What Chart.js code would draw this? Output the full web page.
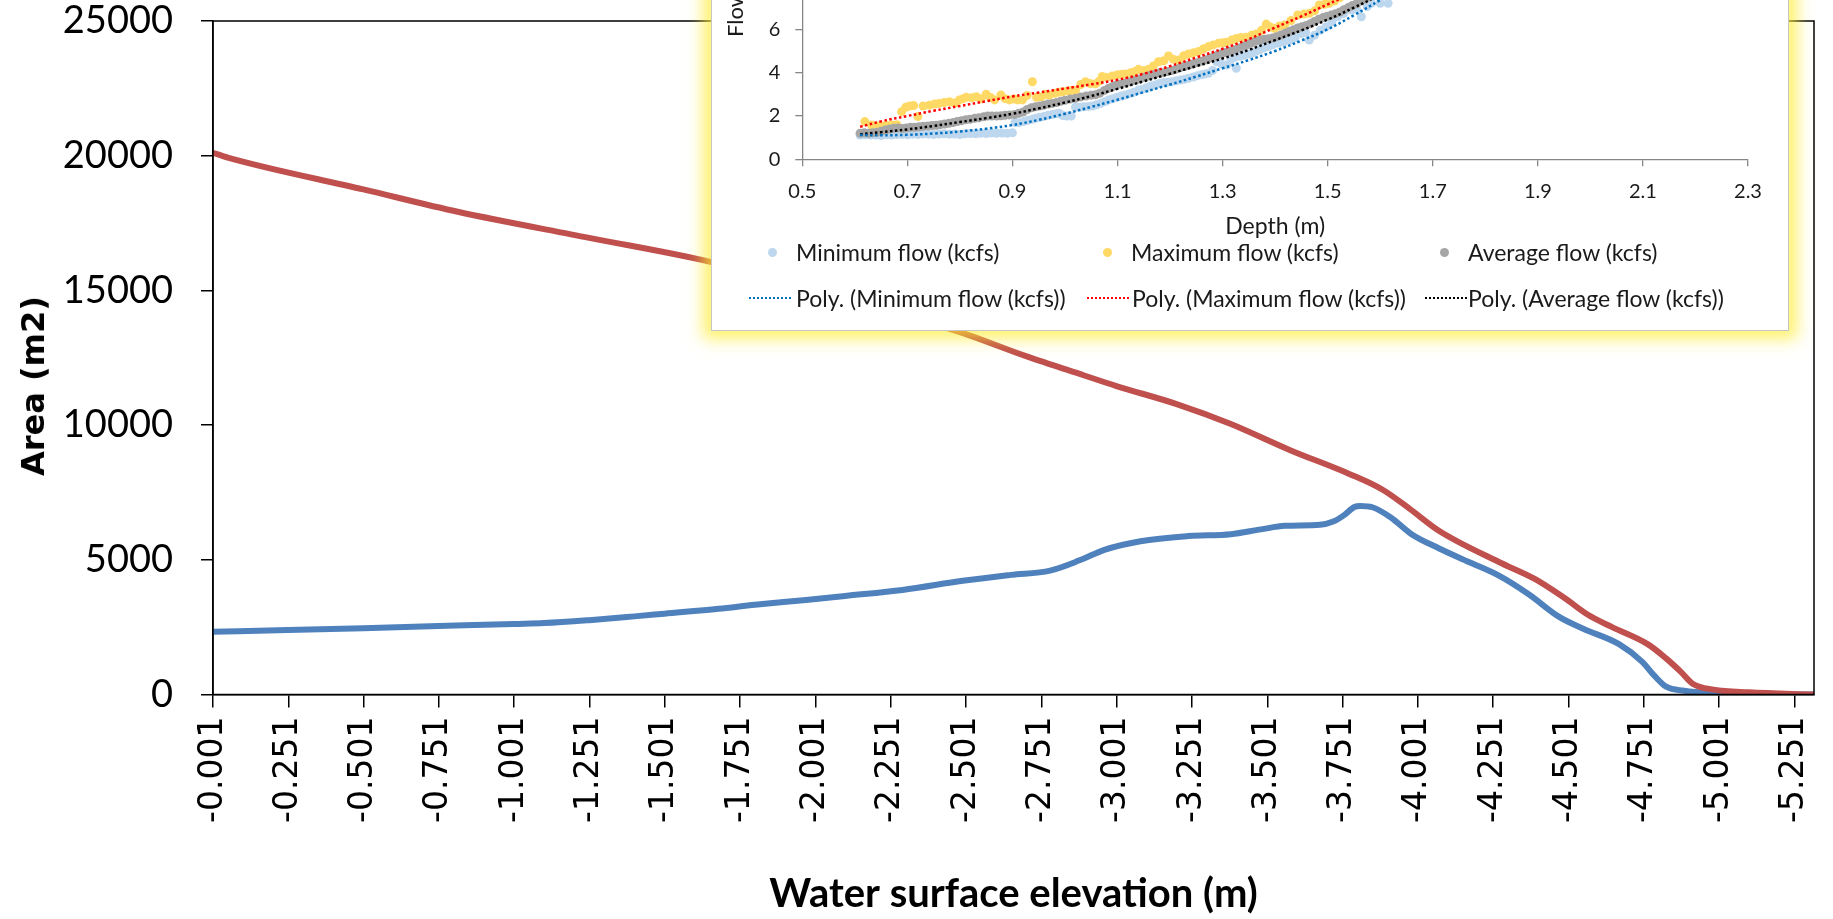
<!DOCTYPE html>
<html>
<head>
<meta charset="utf-8">
<script src="https://cdn.jsdelivr.net/npm/chart.js@4.4.1/dist/chart.umd.min.js"></script>
<style>
  html, body { margin: 0; padding: 0; background: #fff; overflow: hidden; }
  #wrap { position: relative; width: 1833px; height: 919px; }
  #mainChart { position: absolute; left: 0; top: 0; }
  #yTitle { position: absolute; left: 33px; top: 386px; transform: translate(-50%, -50%) rotate(-90deg);
            font: bold 32px "DejaVu Sans"; white-space: nowrap; color: #000; }
  #inset { position: absolute; left: 711px; top: -221px; width: 1076px; height: 550px; background: #fff;
           border: 1px solid #c6c6c6; box-shadow: 0 0 15px 8px rgba(255, 236, 50, 0.72); }
  #insetChart { position: absolute; left: 0; top: 0; }
  .lg { position: absolute; font: 23px Lato; color: #1a1a1a; white-space: nowrap; line-height: 24px; }
  .dot { position: absolute; width: 9px; height: 9px; border-radius: 50%; }
  .dash { position: absolute; width: 42px; height: 2px; }
</style>
</head>
<body>
<div id="wrap">
  <canvas id="mainChart" width="1833" height="919"></canvas>
  <div id="yTitle">Area (m2)</div>
  <div id="inset">
    <canvas id="insetChart" width="1076" height="550"></canvas>
    <div id="insetLegend"></div>
  </div>
</div>
<script>
// ---- main chart: area vs water surface elevation ----
const xTicks = [-0.001, -0.251, -0.501, -0.751, -1.001, -1.251, -1.501, -1.751, -2.001, -2.251, -2.501,
                -2.751, -3.001, -3.251, -3.501, -3.751, -4.001, -4.251, -4.501, -4.751, -5.001, -5.251];

const blueElev = [-0.001, -0.25, -0.5, -0.75, -1.0, -1.1, -1.25, -1.4, -1.5, -1.68, -1.8, -1.97, -2.1, -2.29,
                  -2.49, -2.65, -2.78, -2.88, -2.96, -3.08, -3.24, -3.38, -3.48, -3.56, -3.676, -3.72, -3.755,
                  -3.79, -3.81, -3.85, -3.91, -3.98, -4.07, -4.17, -4.27, -4.37, -4.47, -4.55, -4.67, -4.745,
                  -4.785, -4.825, -4.885, -4.98, -5.16, -5.316];
const blueArea = [2330, 2390, 2460, 2540, 2620, 2650, 2760, 2900, 3000, 3180, 3330, 3510, 3660, 3880,
                  4220, 4440, 4600, 4990, 5370, 5690, 5880, 5950, 6130, 6260, 6300, 6420, 6650,
                  6960, 7000, 6950, 6580, 5950, 5430, 4920, 4410, 3710, 2880, 2440, 1860, 1220,
                  710, 290, 140, 50, 0, 0];

const redElev = [-0.001, -0.05, -0.5, -0.817, -1.25, -1.655, -2.0, -2.476, -2.7, -2.891, -3.0, -3.2, -3.378,
                 -3.577, -3.775, -3.884, -3.973, -4.072, -4.27, -4.389, -4.488, -4.567, -4.646, -4.765,
                 -4.824, -4.874, -4.913, -4.983, -5.1, -5.316];
const redArea = [20110, 19930, 18750, 17910, 16950, 16050, 15000, 13470, 12560, 11850, 11450, 10780, 10050,
                 9070, 8180, 7600, 6900, 6070, 4920, 4290, 3580, 2950, 2500, 1860,
                 1350, 840, 400, 180, 80, 0];

// ---- inset chart: flow vs depth ----
const insetXTicks = [0.5, 0.7, 0.9, 1.1, 1.3, 1.5, 1.7, 1.9, 2.1, 2.3];

const minDepth = [0.610, 0.620, 0.630, 0.640, 0.650, 0.660, 0.670, 0.680, 0.690, 0.700, 0.710, 0.720, 0.730,
                  0.740, 0.750, 0.760, 0.770, 0.780, 0.790, 0.800, 0.810, 0.820, 0.830, 0.840, 0.850, 0.860,
                  0.870, 0.880, 0.890, 0.900, 0.905, 0.913, 0.922, 0.930, 0.938, 0.944, 0.952, 0.960, 0.968,
                  0.976, 0.984, 0.989, 0.996, 1.004, 1.012, 1.020, 1.028, 1.036, 1.044, 1.052, 1.060, 1.068,
                  1.076, 1.083, 1.091, 1.099, 1.107, 1.115, 1.123, 1.131, 1.140, 1.146, 1.155, 1.163, 1.172,
                  1.180, 1.188, 1.196, 1.203, 1.212, 1.220, 1.228, 1.235, 1.244, 1.252, 1.260, 1.267, 1.273,
                  1.281, 1.289, 1.298, 1.308, 1.316, 1.323, 1.326, 1.333, 1.341, 1.349, 1.355, 1.363, 1.371,
                  1.379, 1.387, 1.395, 1.406, 1.417, 1.428, 1.438, 1.450, 1.458, 1.465, 1.475, 1.486, 1.497,
                  1.508, 1.519, 1.530, 1.545, 1.555, 1.564, 1.575, 1.583, 1.600, 1.615];
const minFlow = [1.12, 1.13, 1.12, 1.12, 1.10, 1.13, 1.12, 1.14, 1.15, 1.13, 1.16, 1.15, 1.17,
                 1.16, 1.15, 1.17, 1.18, 1.16, 1.17, 1.14, 1.18, 1.19, 1.18, 1.20, 1.19, 1.21,
                 1.20, 1.21, 1.20, 1.22, 1.70, 1.69, 1.75, 1.80, 1.85, 1.89, 1.94, 1.98, 2.03,
                 2.07, 2.10, 2.12, 2.02, 2.00, 2.00, 2.40, 2.40, 2.42, 2.44, 2.46, 2.52, 2.58,
                 2.66, 2.74, 2.80, 2.86, 2.92, 2.97, 3.03, 3.10, 3.20, 3.22, 3.30, 3.38, 3.43,
                 3.50, 3.54, 3.56, 3.58, 3.62, 3.66, 3.70, 3.74, 3.80, 3.86, 3.90, 3.94, 3.97,
                 4.10, 4.50, 4.40, 4.35, 4.62, 4.71, 4.20, 4.75, 4.80, 4.86, 4.89, 4.98, 5.06,
                 5.14, 5.20, 5.28, 5.35, 5.42, 5.50, 5.62, 5.81, 5.85, 5.50, 5.73, 5.95, 6.12,
                 6.35, 6.58, 6.72, 6.89, 6.95, 6.58, 7.05, 7.20, 7.20, 7.20];

const maxDepth = [0.619, 0.632, 0.642, 0.651, 0.660, 0.670, 0.680, 0.689, 0.697, 0.704, 0.712, 0.720, 0.730,
                  0.742, 0.752, 0.760, 0.770, 0.780, 0.790, 0.799, 0.806, 0.812, 0.822, 0.831, 0.840, 0.850,
                  0.858, 0.866, 0.878, 0.886, 0.894, 0.903, 0.910, 0.919, 0.928, 0.938, 0.946, 0.955, 0.963,
                  0.970, 0.980, 0.988, 0.995, 1.005, 1.012, 1.020, 1.030, 1.039, 1.048, 1.058, 1.065, 1.071,
                  1.080, 1.090, 1.100, 1.108, 1.115, 1.125, 1.133, 1.140, 1.150, 1.159, 1.168, 1.178, 1.188,
                  1.197, 1.206, 1.216, 1.226, 1.235, 1.245, 1.254, 1.264, 1.273, 1.282, 1.292, 1.300, 1.307,
                  1.317, 1.326, 1.335, 1.345, 1.355, 1.364, 1.374, 1.383, 1.391, 1.399, 1.408, 1.418, 1.430,
                  1.443, 1.455, 1.465, 1.475, 1.484, 1.494, 1.503, 1.513, 1.523, 1.535, 1.548, 1.560];
const maxFlow = [1.74, 1.58, 1.55, 1.54, 1.57, 1.58, 1.60, 2.20, 2.40, 2.46, 2.48, 1.97, 2.46,
                 2.50, 2.55, 2.58, 2.62, 2.66, 2.60, 2.74, 2.80, 2.86, 2.84, 2.89, 2.80, 3.00,
                 2.85, 2.74, 2.97, 2.80, 2.74, 2.78, 2.74, 2.74, 2.95, 3.58, 2.86, 2.88, 3.00,
                 2.97, 3.05, 3.10, 3.12, 3.15, 3.18, 3.17, 3.45, 3.58, 3.50, 3.48, 3.60, 3.82,
                 3.78, 3.85, 3.90, 3.92, 3.94, 4.00, 4.05, 4.15, 4.10, 4.15, 4.30, 4.50, 4.55,
                 4.77, 4.62, 4.58, 4.78, 4.86, 4.92, 4.97, 5.10, 5.20, 5.28, 5.35, 5.38, 5.40,
                 5.50, 5.58, 5.62, 5.63, 5.72, 5.78, 5.95, 6.24, 6.10, 6.04, 6.15, 6.20, 6.40,
                 6.66, 6.70, 6.74, 6.85, 7.12, 7.15, 7.20, 7.30, 7.45, 7.60, 7.80, 8.00];

const avgDepth = [0.610, 0.618, 0.626, 0.634, 0.642, 0.650, 0.658, 0.666, 0.674, 0.682, 0.690, 0.698, 0.706,
                  0.714, 0.722, 0.730, 0.739, 0.747, 0.755, 0.763, 0.771, 0.779, 0.787, 0.795, 0.803, 0.811,
                  0.819, 0.828, 0.836, 0.845, 0.853, 0.861, 0.870, 0.878, 0.886, 0.894, 0.904, 0.912, 0.920,
                  0.928, 0.936, 0.944, 0.952, 0.960, 0.968, 0.976, 0.984, 0.992, 1.000, 1.010, 1.020, 1.030,
                  1.040, 1.050, 1.058, 1.066, 1.075, 1.083, 1.091, 1.099, 1.107, 1.115, 1.123, 1.131, 1.139,
                  1.147, 1.155, 1.163, 1.171, 1.179, 1.187, 1.195, 1.203, 1.211, 1.219, 1.227, 1.235, 1.243,
                  1.251, 1.259, 1.267, 1.275, 1.283, 1.291, 1.299, 1.307, 1.315, 1.323, 1.331, 1.339, 1.347,
                  1.355, 1.363, 1.371, 1.379, 1.387, 1.395, 1.403, 1.411, 1.419, 1.427, 1.435, 1.443, 1.451,
                  1.459, 1.467, 1.475, 1.483, 1.491, 1.499, 1.507, 1.515, 1.523, 1.531, 1.539, 1.547, 1.555,
                  1.563, 1.571, 1.579, 1.587];
const avgFlow = [1.20, 1.22, 1.20, 1.23, 1.25, 1.30, 1.35, 1.40, 1.43, 1.45, 1.42, 1.44, 1.48,
                 1.48, 1.50, 1.52, 1.54, 1.56, 1.57, 1.60, 1.63, 1.66, 1.70, 1.74, 1.78, 1.82,
                 1.85, 1.89, 1.92, 1.96, 2.00, 2.00, 2.00, 2.01, 2.03, 2.05, 2.07, 2.12, 2.18,
                 2.30, 2.38, 2.42, 2.46, 2.50, 2.55, 2.58, 2.62, 2.68, 2.72, 2.78, 2.82, 2.88,
                 2.92, 2.96, 2.98, 3.05, 3.18, 3.28, 3.36, 3.44, 3.48, 3.52, 3.58, 3.64, 3.70,
                 3.76, 3.82, 3.88, 3.93, 3.98, 4.00, 4.05, 4.10, 4.16, 4.22, 4.28, 4.34, 4.40,
                 4.46, 4.52, 4.58, 4.66, 4.74, 4.82, 4.88, 4.94, 5.00, 5.06, 5.14, 5.22, 5.30,
                 5.38, 5.45, 5.50, 5.54, 5.56, 5.60, 5.66, 5.74, 5.82, 5.90, 5.98, 6.06, 6.12,
                 6.18, 6.26, 6.36, 6.46, 6.54, 6.60, 6.66, 6.72, 6.80, 6.90, 7.00, 7.10, 7.18,
                 7.30, 7.40, 7.50, 7.62];

// trendlines
const polyDepth = [0.61, 0.65, 0.70, 0.75, 0.80, 0.85, 0.90, 0.95, 1.00, 1.05, 1.10, 1.15, 1.20, 1.25,
                   1.30, 1.35, 1.40, 1.45, 1.50, 1.55, 1.60, 1.65];
const polyMin = [1.12, 1.11, 1.13, 1.19, 1.28, 1.41, 1.58, 1.82, 2.10, 2.42, 2.75, 3.10, 3.45, 3.82,
                 4.20, 4.58, 5.00, 5.48, 6.00, 6.65, 7.35, 8.10];
const polyMax = [1.50, 1.75, 2.00, 2.24, 2.46, 2.68, 2.90, 3.08, 3.27, 3.46, 3.67, 3.95, 4.30, 4.70,
                 5.10, 5.55, 6.08, 6.60, 7.15, 7.70, 8.30, 8.90];
const polyAvg = [1.15, 1.25, 1.38, 1.54, 1.72, 1.90, 2.10, 2.35, 2.62, 2.92, 3.25, 3.60, 3.95, 4.30,
                 4.65, 5.05, 5.50, 5.95, 6.45, 7.00, 7.60, 8.25];

const pts = (xs, ys) => xs.map((x, i) => ({ x: x, y: ys[i] }));

Chart.defaults.font.family = 'Lato';
Chart.defaults.color = '#000';

// plot-area frame for the main chart
const frame = {
  id: 'frame',
  afterDraw(chart) {
    const { ctx, chartArea: a } = chart;
    ctx.save();
    ctx.strokeStyle = '#000';
    ctx.lineWidth = 1.5;
    ctx.strokeRect(a.left, a.top, a.right - a.left, a.bottom - a.top);
    ctx.restore();
  }
};

new Chart(document.getElementById('mainChart'), {
  type: 'line',
  data: {
    datasets: [
      { label: 'Series2', data: pts(redElev, redArea), borderColor: '#C0504D', borderWidth: 6,
        pointRadius: 0, cubicInterpolationMode: 'monotone', order: 0 },
      { label: 'Series1', data: pts(blueElev, blueArea), borderColor: '#4F81BD', borderWidth: 6,
        pointRadius: 0, cubicInterpolationMode: 'monotone', order: 1 }
    ]
  },
  options: {
    responsive: false,
    animation: false,
    layout: { autoPadding: false, padding: { top: 21, right: 19, left: 0, bottom: 0 } },
    plugins: { legend: { display: false }, tooltip: { enabled: false } },
    scales: {
      x: {
        type: 'linear', reverse: true, min: -5.316, max: -0.001,
        afterBuildTicks: s => { s.ticks = xTicks.map(v => ({ value: v })); },
        afterFit: s => { s.height = 919 - 694.5; s.paddingLeft = 0; s.paddingRight = 0; },
        ticks: { autoSkip: false, minRotation: 90, maxRotation: 90, padding: 9,
                 font: { family: 'DejaVu Sans', size: 33 }, color: '#000',
                 callback: v => Number(v).toFixed(3) },
        grid: { drawOnChartArea: false, tickLength: 13, color: '#000', lineWidth: 1.5 },
        border: { color: '#000', width: 1.5 },
        title: { display: true, text: 'Water surface elevation (m)', color: '#000',
                 font: { family: 'Lato', size: 40, weight: 'bold' }, padding: { top: 0, bottom: 1 } }
      },
      y: {
        min: 0, max: 25000,
        afterFit: s => { s.width = 213; s.paddingTop = 0; s.paddingBottom = 0; },
        ticks: { stepSize: 5000, padding: 28, color: '#000', font: { family: 'Lato', size: 38, lineHeight: 1 },
                 callback: v => String(v) },
        grid: { drawOnChartArea: false, tickLength: 12, color: '#000', lineWidth: 1.5 },
        border: { color: '#000', width: 1.5 }
      }
    }
  },
  plugins: [frame]
});

// ---- inset ----
const insetAxis = '#868686';
new Chart(document.getElementById('insetChart'), {
  type: 'scatter',
  data: {
    datasets: [
      { label: 'Poly. (Minimum flow (kcfs))', data: pts(polyDepth, polyMin), showLine: true, pointRadius: 0,
        borderColor: '#0070C0', borderWidth: 2.5, borderDash: [2.5, 2.5], tension: 0.4, order: 0 },
      { label: 'Poly. (Maximum flow (kcfs))', data: pts(polyDepth, polyMax), showLine: true, pointRadius: 0,
        borderColor: '#FF0000', borderWidth: 2.5, borderDash: [2.5, 2.5], tension: 0.4, order: 1 },
      { label: 'Poly. (Average flow (kcfs))', data: pts(polyDepth, polyAvg), showLine: true, pointRadius: 0,
        borderColor: '#000000', borderWidth: 2.5, borderDash: [2.5, 2.5], tension: 0.4, order: 2 },
      { label: 'Average flow (kcfs)', data: pts(avgDepth, avgFlow), pointRadius: 4.5, borderWidth: 0,
        backgroundColor: '#A6A6A6', order: 3 },
      { label: 'Maximum flow (kcfs)', data: pts(maxDepth, maxFlow), pointRadius: 4.5, borderWidth: 0,
        backgroundColor: '#FFD966', order: 4 },
      { label: 'Minimum flow (kcfs)', data: pts(minDepth, minFlow), pointRadius: 4.5, borderWidth: 0,
        backgroundColor: '#BDD7EE', order: 5 }
    ]
  },
  options: {
    responsive: false,
    animation: false,
    layout: { autoPadding: false, padding: { top: 32.6, right: 40, left: 0, bottom: 0 } },
    plugins: { legend: { display: false }, tooltip: { enabled: false } },
    scales: {
      x: {
        type: 'linear', min: 0.5, max: 2.3,
        afterBuildTicks: s => { s.ticks = insetXTicks.map(v => ({ value: v })); },
        afterFit: s => { s.height = 170.7; s.paddingLeft = 0; s.paddingRight = 0; },
        ticks: { padding: 13, color: '#1a1a1a', font: { size: 20 }, callback: v => Number(v).toFixed(1) },
        grid: { drawOnChartArea: false, tickLength: 7, color: insetAxis, lineWidth: 1.3 },
        border: { color: insetAxis, width: 1.3 },
        title: { display: true, text: 'Depth (m)', color: '#1a1a1a', font: { size: 23 },
                 padding: { top: 0, bottom: 90 } }
      },
      y: {
        min: 0, max: 16,
        afterFit: s => { s.width = 90.3; s.paddingTop = 0; s.paddingBottom = 0; },
        ticks: { stepSize: 2, padding: 15, color: '#1a1a1a', font: { size: 20 } },
        grid: { drawOnChartArea: false, tickLength: 7, color: insetAxis, lineWidth: 1.3 },
        border: { color: insetAxis, width: 1.3 },
        title: { display: true, text: 'Flow (kcfs)', color: '#1a1a1a', font: { size: 22 },
                 padding: { top: 11, bottom: 0 } }
      }
    }
  }
});

// inset legend (two rows, three columns, like the spreadsheet one)
const legendRows = [
  { y: 472, items: [
    { kind: 'dot', color: '#BDD7EE', mark: 60, text: 'Minimum flow (kcfs)', tx: 84 },
    { kind: 'dot', color: '#FFD966', mark: 395, text: 'Maximum flow (kcfs)', tx: 419 },
    { kind: 'dot', color: '#A6A6A6', mark: 732, text: 'Average flow (kcfs)', tx: 756 } ] },
  { y: 518, items: [
    { kind: 'dash', color: '#0070C0', mark: 37, text: 'Poly. (Minimum flow (kcfs))', tx: 84 },
    { kind: 'dash', color: '#FF0000', mark: 375, text: 'Poly. (Maximum flow (kcfs))', tx: 420 },
    { kind: 'dash', color: '#000000', mark: 713, text: 'Poly. (Average flow (kcfs))', tx: 756 } ] }
];
const lg = document.getElementById('insetLegend');
legendRows.forEach(row => {
  row.items.forEach(it => {
    const m = document.createElement('div');
    if (it.kind === 'dot') {
      m.className = 'dot';
      m.style.left = (it.mark - 4.5) + 'px';
      m.style.top = (row.y - 4.5) + 'px';
      m.style.background = it.color;
    } else {
      m.className = 'dash';
      m.style.left = it.mark + 'px';
      m.style.top = (row.y - 1) + 'px';
      m.style.background = `repeating-linear-gradient(90deg, ${it.color} 0 2px, transparent 2px 4px)`;
    }
    lg.appendChild(m);
    const t = document.createElement('div');
    t.className = 'lg';
    t.style.left = it.tx + 'px';
    t.style.top = (row.y - 12) + 'px';
    t.textContent = it.text;
    lg.appendChild(t);
  });
});
</script>
</body>
</html>
